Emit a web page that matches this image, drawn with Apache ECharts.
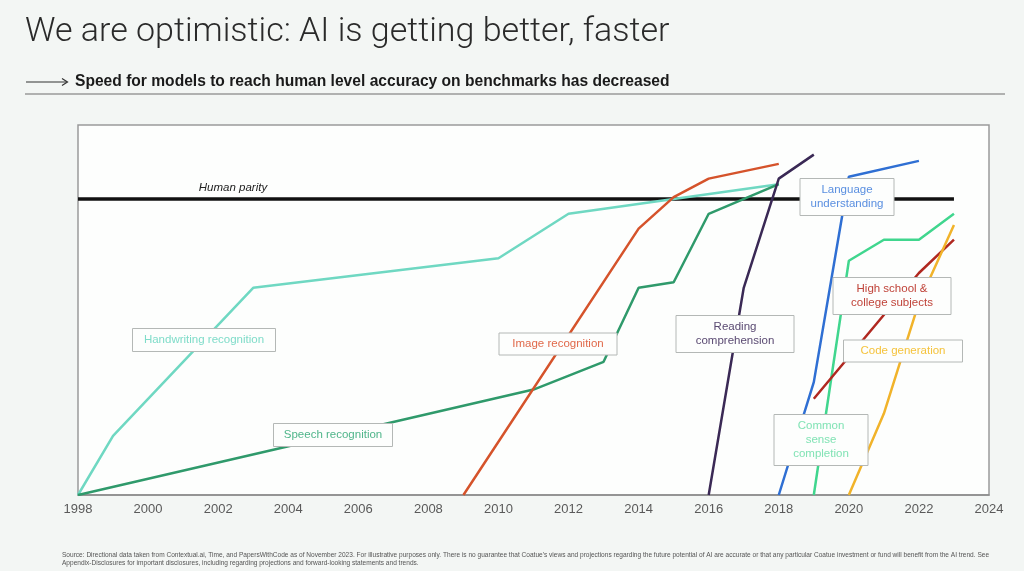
<!DOCTYPE html>
<html>
<head>
<meta charset="utf-8">
<script src="https://cdn.jsdelivr.net/npm/echarts@6/dist/echarts.min.js"></script>
<style>
html,body{margin:0;padding:0;background:#f3f6f4;}
#c{width:1024px;height:571px;}
</style>
</head>
<body>
<div id="c"></div>
<script>
// ---- Data (year, % of human-level benchmark progress; 80 = human parity) ----
const xTicks = [1998, 2000, 2002, 2004, 2006, 2008, 2010, 2012, 2014, 2016, 2018, 2020, 2022, 2024];
const humanParity = [[1998, 80], [2023, 80]];
const handwriting = [[1998, 0], [1999, 16], [2003, 56], [2010, 64], [2012, 76], [2018, 84]];
const speech = [[1998, 0], [2011, 28.5], [2013, 36], [2014, 56], [2015, 57.5], [2016, 76], [2018, 84]];
const imageRec = [[2009, 0], [2014, 72], [2015, 80.5], [2016, 85.5], [2018, 89.5]];
const reading = [[2016, 0], [2017, 56], [2018, 85.5], [2019, 92]];
const language = [[2018, 0], [2019, 30.5], [2020, 86], [2022, 90.3]];
const commonSense = [[2019, 0], [2020, 63.3], [2021, 69], [2022, 69], [2023, 76]];
const highSchool = [[2019, 26], [2022, 60], [2023, 69]];
const codeGen = [[2020, 0], [2021, 22], [2022, 52], [2023, 73]];

const seriesNames = ['Human parity', 'Handwriting recognition', 'Speech recognition', 'Image recognition',
  'Reading comprehension', 'Language understanding', 'Common sense completion',
  'High school & college subjects', 'Code generation'];
const seriesData = [humanParity, handwriting, speech, imageRec, reading, language, commonSense, highSchool, codeGen];
const lineColors = ['#111111', '#6fd8c2', '#2f9a6b', '#d5532b', '#3a2955', '#2f6fd3', '#40d68e', '#b02820', '#f1b32a'];
const lineWidths = [3.5, 2.5, 2.5, 2.5, 2.5, 2.5, 2.5, 2.5, 2.5];

const chart = echarts.init(document.getElementById('c'));

function box(cx, cy, w, h, lines, color) {
  return [
    { type: 'rect', z: 100, shape: { x: cx - w / 2, y: cy - h / 2, width: w, height: h },
      style: { fill: '#fdfefd', stroke: '#b4b8b6', lineWidth: 1 } },
    { type: 'text', z: 101, x: cx, y: cy,
      style: { text: lines, align: 'center', verticalAlign: 'middle', fill: color,
        font: '11.5px "Liberation Sans", Arial, sans-serif', lineHeight: 14 } }
  ];
}

const option = {
  backgroundColor: '#f3f6f4',
  animation: false,
  title: {
    text: 'We are optimistic: AI is getting better, faster',
    left: 20, top: 10,
    textStyle: { fontFamily: 'Roboto, "Liberation Sans", sans-serif', fontWeight: 300, fontSize: 34, color: '#2a2a2a' }
  },
  grid: { left: 78, right: 35, top: 125, bottom: 76, show: true, backgroundColor: '#fdfefd', borderColor: '#9a9a9a', borderWidth: 1.5 },
  xAxis: {
    type: 'value', min: 1998, max: 2024, interval: 2,
    axisLine: { show: true, lineStyle: { color: '#8a8a8a', width: 1.5 } },
    axisTick: { show: false },
    splitLine: { show: false },
    axisLabel: { color: '#5a5a5a', fontSize: 13, margin: 8, fontFamily: '"Liberation Sans", Arial, sans-serif',
      formatter: v => xTicks.indexOf(v) >= 0 ? String(v) : '' }
  },
  yAxis: { type: 'value', min: 0, max: 100, show: false, splitLine: { show: false } },
  series: seriesData.map((d, i) => ({
    name: seriesNames[i], type: 'line', data: d, showSymbol: false, symbol: 'none',
    z: i === 0 ? 2 : 3,
    lineStyle: { color: lineColors[i], width: lineWidths[i] }
  })),
  graphic: [
    // subtitle arrow + text
    { type: 'line', z: 10, shape: { x1: 26, y1: 82, x2: 67, y2: 82 }, style: { stroke: '#333', lineWidth: 1.2 } },
    { type: 'polyline', z: 10, shape: { points: [[62, 78.5], [67.5, 82], [62, 85.5]] }, style: { stroke: '#333', lineWidth: 1.2, fill: null } },
    { type: 'text', z: 10, x: 75, y: 82, style: { text: 'Speed for models to reach human level accuracy on benchmarks has decreased',
      verticalAlign: 'middle', fill: '#1a1a1a', font: 'bold 15.6px "Liberation Sans", Arial, sans-serif' } },
    { type: 'line', z: 10, shape: { x1: 25, y1: 94, x2: 1005, y2: 94 }, style: { stroke: '#9a9a9a', lineWidth: 1.5 } },
    // human parity label
    { type: 'text', z: 10, x: 233, y: 188, style: { text: 'Human parity', align: 'center', verticalAlign: 'middle',
      fill: '#222', font: 'italic 11.5px "Liberation Sans", Arial, sans-serif' } },
    ...box(204, 340, 143, 23, 'Handwriting recognition', '#7fdcc9'),
    ...box(333, 435, 119, 23, 'Speech recognition', '#4fb58a'),
    ...box(558, 344, 118, 22, 'Image recognition', '#e0694a'),
    ...box(735, 334, 118, 37, 'Reading\ncomprehension', '#5a4a72'),
    ...box(847, 197, 94, 37, 'Language\nunderstanding', '#5a8fe0'),
    ...box(892, 296, 118, 37, 'High school &\ncollege subjects', '#c0443a'),
    ...box(903, 351, 119, 22, 'Code generation', '#f5c33c'),
    ...box(821, 440, 94, 51, 'Common\nsense\ncompletion', '#82e3b5'),
    // footer
    { type: 'text', z: 10, x: 62, y: 551, style: { text:
      "Source: Directional data taken from Contextual.ai, Time, and PapersWithCode as of November 2023. For illustrative purposes only. There is no guarantee that Coatue's views and projections regarding the future potential of AI are accurate or that any particular Coatue investment or fund will benefit from the AI trend. See\nAppendix-Disclosures for important disclosures, including regarding projections and forward-looking statements and trends.",
      fill: '#555', font: '6.55px "Liberation Sans Narrow", "Liberation Sans", Arial, sans-serif', lineHeight: 8 } }
  ]
};
chart.setOption(option);
</script>
</body>
</html>
